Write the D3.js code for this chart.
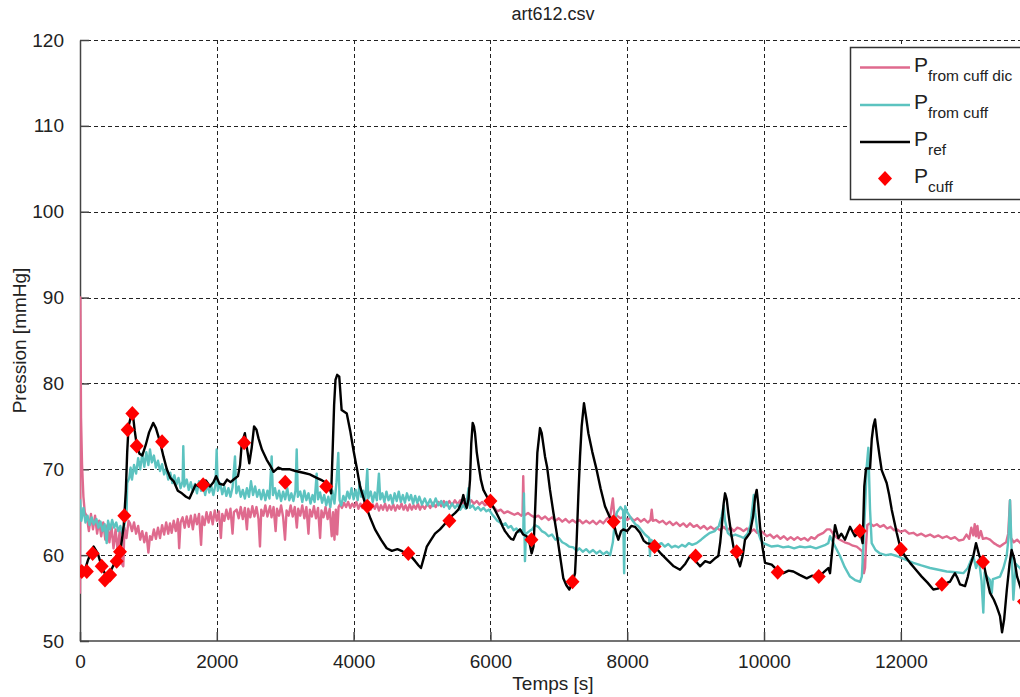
<!DOCTYPE html>
<html><head><meta charset="utf-8">
<script src="https://cdn.jsdelivr.net/npm/d3@7"></script>
<style>body{margin:0;background:#fff}svg{display:block}text{font-family:"Liberation Sans",Arial,sans-serif;fill:#222}</style>
</head><body><svg id="c" width="1020" height="697"></svg>
<script>
const chartTitle = "art612.csv";
const xLabel = "Temps [s]";
const yLabel = "Pression [mmHg]";
const xTicks = [0, 2000, 4000, 6000, 8000, 10000, 12000];
const yTicks = [50, 60, 70, 80, 90, 100, 110, 120];
const legendNames = [["P","from cuff dic"],["P","from cuff"],["P","ref"],["P","cuff"]];

const cuffTime = [25,100,185,317,365,440,536,585,648,697,765,829,1200,1800,2400,3000,3600,4200,4800,5400,6000,6600,7200,7800,8400,9000,9600,10200,10800,11400,12000,12600,13200,13800];
const cuffValues = [58.1,58.1,60.2,58.7,57.1,57.7,59.3,60.4,64.6,74.6,76.5,72.7,73.2,68.2,73.1,68.5,68.0,65.7,60.2,64.0,66.3,61.8,56.9,63.9,61.0,59.9,60.4,58.0,57.5,62.8,60.7,56.6,59.2,54.6];

const pRef = [[0,58.3],[60,58.0],[120,59.5],[200,61.0],[260,60.2],[320,58.6],[380,57.6],[440,58.0],[500,59.0],[560,59.8],[600,61.0],[640,63.5],[670,67.5],[690,72.0],[710,75.0],[740,76.0],[770,76.6],[800,74.5],[830,72.8],[870,71.8],[910,71.6],[960,72.8],[1010,74.3],[1070,75.4],[1110,74.8],[1170,73.2],[1220,71.5],[1270,70.0],[1320,69.0],[1370,68.6],[1430,67.5],[1490,67.2],[1550,66.8],[1600,66.6],[1650,67.5],[1690,68.2],[1740,68.0],[1790,68.4],[1840,68.7],[1900,68.0],[1950,68.5],[1990,69.2],[2040,68.3],[2100,68.2],[2150,68.8],[2200,68.5],[2260,68.9],[2310,69.2],[2340,70.5],[2365,73.0],[2410,74.2],[2440,72.5],[2475,70.7],[2510,72.5],[2545,75.0],[2580,74.6],[2610,73.6],[2660,72.3],[2730,71.1],[2790,70.3],[2830,69.7],[2900,70.2],[2960,70.0],[3070,70.0],[3150,69.8],[3265,69.6],[3360,69.4],[3460,69.0],[3540,68.7],[3606,68.4],[3650,67.8],[3672,67.2],[3694,72.3],[3715,77.5],[3735,80.4],[3760,81.0],[3790,80.8],[3825,76.9],[3900,76.5],[3950,74.5],[3996,72.3],[4050,70.0],[4094,68.0],[4180,65.7],[4250,64.2],[4313,63.0],[4400,61.8],[4484,60.8],[4560,60.5],[4640,60.7],[4700,60.5],[4760,60.2],[4825,60.0],[4900,59.3],[4950,58.8],[4985,58.5],[5030,59.8],[5070,61.0],[5117,61.6],[5190,62.5],[5263,63.0],[5330,63.6],[5385,64.0],[5440,64.6],[5482,64.9],[5531,65.3],[5580,66.2],[5604,67.0],[5630,66.0],[5653,65.5],[5680,66.5],[5702,68.8],[5720,73.0],[5741,75.4],[5760,75.0],[5775,74.2],[5800,72.0],[5823,70.7],[5860,68.8],[5897,67.6],[5950,66.8],[5994,66.3],[6070,65.2],[6140,64.1],[6180,63.3],[6213,62.8],[6260,62.3],[6300,61.9],[6335,61.8],[6380,62.6],[6433,63.0],[6480,62.4],[6530,62.2],[6570,61.5],[6603,60.2],[6630,61.0],[6652,64.9],[6686,71.9],[6725,74.8],[6750,74.2],[6798,71.5],[6830,70.2],[6871,67.6],[6920,65.0],[6969,62.6],[7020,59.8],[7066,57.3],[7110,56.5],[7154,56.0],[7200,56.8],[7237,57.9],[7260,61.5],[7285,66.8],[7310,71.5],[7334,75.0],[7368,77.7],[7400,76.0],[7432,74.2],[7490,72.0],[7554,69.9],[7610,67.8],[7675,65.7],[7740,64.5],[7797,63.9],[7840,62.5],[7870,61.8],[7910,62.8],[7943,63.0],[8000,62.8],[8060,63.4],[8114,63.3],[8187,62.6],[8240,61.7],[8285,61.4],[8340,61.3],[8406,61.0],[8490,60.2],[8577,59.5],[8680,58.7],[8772,58.3],[8850,59.0],[8918,59.9],[8990,59.4],[9064,58.7],[9140,59.3],[9211,59.1],[9280,59.6],[9332,59.9],[9360,61.5],[9381,63.3],[9410,66.0],[9430,67.2],[9455,66.5],[9478,64.9],[9520,62.5],[9552,61.0],[9600,59.8],[9649,58.7],[9690,60.0],[9722,61.8],[9760,62.2],[9795,62.6],[9840,64.5],[9870,66.8],[9893,67.6],[9915,66.0],[9942,63.3],[9980,60.8],[10015,59.1],[10112,58.9],[10200,58.2],[10283,57.9],[10360,58.2],[10429,58.1],[10520,57.7],[10624,57.3],[10700,57.6],[10794,57.5],[10870,58.0],[10940,58.5],[10965,57.9],[10990,60.0],[11013,61.8],[11038,63.5],[11087,62.0],[11130,62.5],[11184,61.8],[11257,63.3],[11330,62.2],[11404,62.8],[11442,61.4],[11466,68.0],[11491,70.1],[11550,70.1],[11575,73.5],[11598,75.0],[11623,75.8],[11657,73.4],[11690,71.5],[11720,69.9],[11793,68.4],[11830,67.0],[11867,65.3],[11940,62.6],[11998,60.7],[12060,59.9],[12135,59.1],[12220,58.3],[12305,57.5],[12390,56.8],[12475,56.0],[12540,56.1],[12612,56.4],[12680,56.8],[12719,56.9],[12760,57.5],[12792,57.9],[12830,57.3],[12865,56.6],[12939,56.4],[12980,57.5],[13012,58.7],[13060,59.9],[13099,61.4],[13148,59.9],[13206,59.2],[13250,57.5],[13304,55.6],[13360,54.8],[13402,54.0],[13450,52.9],[13480,51.0],[13510,52.5],[13550,56.0],[13590,59.0],[13620,60.6],[13660,59.5],[13700,57.5],[13760,56.0],[13800,54.5]];

const pFromCuff = [[0,66.5],[20,64.0],[50,65.5],[80,63.8],[110,64.6],[140,63.5],[170,64.4],[200,63.6],[240,64.2],[270,63.2],[300,63.9],[330,62.8],[360,63.6],[390,61.4],[410,64.0],[440,63.0],[470,64.1],[500,63.2],[530,63.8],[560,62.8],[590,63.4],[620,62.5],[650,63.6],[680,64.5],[690,68.4],[720,69.0],[740,70.2],[760,68.8],[790,70.5],[820,69.5],[850,71.3],[880,70.0],[910,71.8],[940,70.3],[970,72.0],[1000,70.5],[1023,72.3],[1050,70.8],[1080,71.6],[1110,70.2],[1140,71.0],[1170,69.8],[1200,70.6],[1230,69.4],[1260,70.1],[1290,68.8],[1320,69.6],[1350,68.4],[1380,69.3],[1410,68.2],[1440,69.0],[1470,67.8],[1500,68.6],[1510,72.7],[1525,68.0],[1560,68.8],[1590,67.6],[1620,68.5],[1650,67.4],[1680,68.3],[1710,67.2],[1740,68.6],[1770,67.5],[1800,68.2],[1830,67.0],[1860,68.4],[1890,67.3],[1920,68.0],[1950,67.0],[1980,68.2],[1998,72.3],[2015,67.5],[2050,68.4],[2080,67.1],[2110,68.0],[2140,66.9],[2170,67.8],[2200,66.8],[2230,67.9],[2266,71.5],[2285,67.2],[2320,68.0],[2350,66.8],[2380,67.6],[2410,66.6],[2440,67.8],[2470,66.8],[2500,68.6],[2530,67.0],[2560,68.0],[2590,66.8],[2620,67.6],[2650,66.5],[2680,67.6],[2710,66.4],[2740,67.5],[2770,66.6],[2802,71.5],[2820,67.0],[2850,67.8],[2880,66.6],[2910,67.5],[2940,66.3],[2970,67.4],[3000,66.5],[3030,67.8],[3060,66.4],[3090,67.2],[3120,66.3],[3150,67.5],[3168,72.3],[3185,66.8],[3220,67.4],[3250,66.2],[3280,67.5],[3310,66.4],[3340,67.2],[3370,66.0],[3400,67.0],[3430,66.2],[3460,69.5],[3480,66.5],[3510,67.3],[3540,66.1],[3570,67.0],[3600,65.8],[3630,66.8],[3660,65.6],[3690,67.5],[3720,66.0],[3750,68.5],[3776,71.9],[3795,66.4],[3820,65.8],[3850,66.9],[3880,66.3],[3910,67.4],[3940,66.6],[3970,67.8],[4000,66.5],[4030,67.6],[4060,66.4],[4090,68.5],[4110,66.8],[4140,67.5],[4170,66.3],[4200,70.0],[4215,66.6],[4250,67.4],[4280,66.2],[4310,67.3],[4340,66.4],[4370,69.5],[4390,66.5],[4420,67.2],[4450,66.2],[4480,67.4],[4510,66.4],[4540,67.0],[4570,66.0],[4600,67.2],[4630,66.3],[4660,67.4],[4690,66.2],[4720,67.0],[4750,66.1],[4780,67.2],[4810,66.4],[4840,67.0],[4870,66.0],[4900,66.9],[4930,66.1],[4960,66.8],[5000,65.9],[5040,66.6],[5080,65.8],[5120,66.5],[5160,65.7],[5200,66.6],[5240,65.8],[5280,66.3],[5320,65.6],[5360,66.2],[5400,65.4],[5440,66.0],[5480,65.5],[5520,65.9],[5560,65.3],[5600,65.8],[5640,65.4],[5680,67.8],[5700,65.5],[5740,65.8],[5780,65.3],[5820,65.6],[5860,65.2],[5900,65.5],[5940,65.1],[5980,65.3],[6020,64.8],[6060,64.4],[6100,64.0],[6140,63.8],[6180,63.5],[6220,63.7],[6260,63.2],[6300,63.4],[6340,62.9],[6380,63.1],[6420,62.7],[6460,62.9],[6480,62.6],[6490,67.2],[6505,59.3],[6520,62.5],[6570,62.8],[6610,63.0],[6650,63.5],[6700,63.3],[6750,62.8],[6800,62.6],[6850,62.2],[6900,62.4],[6950,61.8],[7000,62.0],[7050,61.5],[7100,61.3],[7150,61.0],[7213,60.9],[7260,60.5],[7300,60.8],[7350,60.4],[7400,60.7],[7450,60.3],[7500,60.6],[7550,60.2],[7600,60.5],[7650,60.1],[7700,60.4],[7750,60.0],[7790,61.5],[7820,64.0],[7850,65.0],[7900,65.6],[7940,65.2],[7955,57.9],[7970,65.7],[8000,65.0],[8040,64.5],[8080,64.0],[8120,63.6],[8160,63.4],[8200,63.0],[8260,62.4],[8320,62.0],[8333,59.9],[8345,61.8],[8400,61.5],[8450,61.2],[8500,61.4],[8550,61.0],[8600,61.3],[8650,60.9],[8700,61.1],[8750,60.9],[8800,61.2],[8850,61.0],[8900,61.4],[8950,61.2],[9015,61.4],[9080,61.8],[9140,62.2],[9210,62.6],[9280,62.8],[9340,63.4],[9380,64.5],[9410,65.8],[9430,64.0],[9470,62.6],[9520,62.2],[9580,62.4],[9649,62.2],[9700,62.0],[9760,62.5],[9800,63.5],[9830,65.5],[9850,67.0],[9870,65.0],[9900,63.0],[9950,61.8],[9990,61.4],[10050,61.2],[10112,61.0],[10200,61.1],[10280,60.9],[10360,61.0],[10440,60.8],[10520,61.0],[10600,60.9],[10680,61.0],[10760,60.8],[10830,61.0],[10900,61.2],[10940,61.4],[10965,62.2],[11040,61.0],[11111,59.9],[11180,58.6],[11257,57.5],[11330,57.1],[11404,56.9],[11430,57.5],[11452,61.0],[11480,66.0],[11501,70.3],[11525,72.5],[11550,65.3],[11574,61.4],[11630,60.6],[11696,60.2],[11780,60.0],[11860,60.1],[11940,59.9],[12060,59.5],[12183,59.1],[12300,58.8],[12427,58.5],[12550,58.3],[12671,58.1],[12800,58.0],[12914,57.9],[12980,58.5],[13020,59.3],[13060,59.9],[13100,58.5],[13140,59.5],[13180,57.0],[13206,53.3],[13225,58.0],[13260,57.5],[13304,57.1],[13330,55.6],[13345,57.2],[13380,57.3],[13450,57.5],[13500,58.5],[13547,59.9],[13575,62.0],[13596,66.4],[13620,60.6],[13645,54.8],[13680,59.0],[13740,58.5],[13800,58.0]];

const pFromCuffDic = [[0,55.5],[5,90.0],[15,76.0],[30,70.5],[50,66.8],[70,65.0],[100,64.5],[130,62.8],[160,64.8],[190,63.0],[220,64.6],[250,62.5],[280,64.0],[310,62.2],[340,63.8],[370,61.8],[400,63.5],[430,61.5],[460,63.4],[490,60.8],[520,63.0],[550,60.5],[580,62.8],[610,59.0],[633,58.7],[650,63.2],[680,62.0],[710,64.0],[731,63.7],[760,62.8],[790,63.8],[820,62.5],[850,63.4],[880,61.8],[910,62.8],[940,61.5],[970,62.6],[1000,60.3],[1023,62.2],[1050,61.8],[1080,63.0],[1110,61.9],[1140,63.2],[1170,62.0],[1200,63.5],[1230,62.4],[1260,63.8],[1290,62.5],[1316,63.7],[1340,62.6],[1370,64.0],[1400,62.8],[1430,64.2],[1450,60.8],[1470,63.8],[1500,64.4],[1530,63.2],[1560,64.5],[1590,63.3],[1620,64.6],[1650,63.0],[1680,64.7],[1710,63.6],[1740,64.8],[1770,61.2],[1790,64.5],[1820,63.5],[1850,65.0],[1880,63.8],[1910,65.0],[1940,63.6],[1970,65.2],[2000,64.0],[2030,65.1],[2060,62.0],[2080,64.8],[2110,64.0],[2140,65.3],[2170,64.2],[2200,65.4],[2230,62.5],[2250,65.0],[2290,65.3],[2320,64.3],[2350,65.6],[2380,64.2],[2410,65.5],[2440,63.0],[2460,65.4],[2490,64.4],[2520,65.7],[2550,64.5],[2580,65.6],[2610,64.2],[2631,61.0],[2650,65.3],[2680,64.6],[2710,65.8],[2740,64.5],[2778,65.7],[2800,64.4],[2830,65.6],[2860,62.8],[2880,65.4],[2910,64.6],[2940,65.8],[2970,64.4],[2997,61.8],[3020,65.2],[3050,64.6],[3080,65.8],[3110,64.5],[3140,65.6],[3170,63.2],[3190,65.4],[3220,64.6],[3250,65.8],[3280,64.3],[3310,65.6],[3340,62.5],[3360,65.3],[3390,64.5],[3420,65.7],[3450,64.3],[3480,65.5],[3510,62.0],[3530,65.2],[3560,64.4],[3590,65.6],[3620,64.2],[3650,65.4],[3680,62.2],[3700,65.0],[3720,61.8],[3740,65.3],[3760,62.4],[3780,65.6],[3800,65.9],[3830,65.5],[3860,66.1],[3890,65.6],[3920,66.2],[3950,65.5],[3980,66.0],[4010,65.6],[4040,66.2],[4070,65.4],[4100,66.0],[4130,65.5],[4160,66.1],[4190,65.4],[4220,66.0],[4250,65.3],[4280,65.9],[4310,65.4],[4340,66.0],[4370,65.2],[4400,65.8],[4430,65.3],[4460,66.0],[4490,65.2],[4520,65.8],[4550,65.3],[4580,65.9],[4610,65.2],[4640,65.8],[4670,65.4],[4700,66.0],[4730,65.3],[4760,65.8],[4790,65.2],[4820,65.9],[4850,65.3],[4880,65.8],[4910,65.4],[4940,66.0],[4970,65.3],[5000,65.8],[5040,65.4],[5080,66.0],[5120,65.5],[5160,66.1],[5200,65.6],[5240,66.2],[5280,65.7],[5320,66.3],[5360,65.8],[5400,66.3],[5440,65.8],[5480,66.4],[5520,65.9],[5560,66.4],[5600,66.0],[5640,66.5],[5680,65.9],[5720,66.4],[5760,66.0],[5800,66.3],[5840,65.9],[5880,66.2],[5920,65.8],[5960,66.0],[6000,65.6],[6050,65.6],[6100,65.1],[6150,65.3],[6200,64.9],[6250,65.1],[6300,64.9],[6350,64.7],[6400,64.9],[6450,64.6],[6470,64.8],[6480,69.2],[6492,64.6],[6550,64.9],[6600,64.6],[6650,64.4],[6700,64.6],[6750,64.2],[6800,64.5],[6850,64.1],[6900,64.4],[6950,64.0],[7000,64.3],[7050,63.9],[7100,64.2],[7150,63.8],[7200,64.1],[7250,63.8],[7300,64.1],[7350,63.7],[7400,64.0],[7450,63.7],[7500,64.0],[7550,63.6],[7600,64.0],[7650,63.7],[7700,64.2],[7750,64.5],[7790,66.6],[7810,64.8],[7850,64.6],[7900,64.3],[7950,64.5],[8000,64.1],[8050,64.4],[8100,64.0],[8150,64.3],[8200,63.9],[8250,64.2],[8300,63.8],[8340,64.1],[8358,65.3],[8375,64.0],[8420,64.1],[8470,63.8],[8520,64.0],[8570,63.6],[8620,63.9],[8670,63.5],[8720,63.8],[8770,63.4],[8820,63.7],[8870,63.3],[8918,63.7],[8970,63.3],[9020,63.5],[9070,63.1],[9120,63.4],[9170,63.0],[9220,63.3],[9270,63.0],[9308,63.2],[9360,62.9],[9410,63.3],[9460,62.9],[9510,63.2],[9560,62.8],[9610,63.2],[9649,63.1],[9700,62.8],[9750,63.1],[9800,62.7],[9850,63.0],[9900,62.6],[9950,62.8],[9990,62.6],[10040,62.2],[10090,62.4],[10140,62.0],[10190,62.3],[10240,61.9],[10290,62.2],[10340,61.8],[10390,62.1],[10440,61.8],[10490,62.1],[10540,61.8],[10590,62.0],[10640,61.7],[10690,62.1],[10740,61.9],[10790,62.3],[10867,62.6],[10920,63.0],[10965,63.0],[11020,62.4],[11070,62.0],[11111,61.8],[11180,61.5],[11250,61.3],[11300,61.1],[11355,61.0],[11400,60.7],[11440,60.4],[11460,57.9],[11477,58.5],[11490,61.0],[11510,63.5],[11550,63.7],[11600,63.4],[11650,63.6],[11696,63.3],[11750,63.5],[11800,63.1],[11850,63.3],[11900,62.9],[11940,63.0],[12000,62.7],[12060,62.9],[12120,62.5],[12183,62.6],[12240,62.3],[12300,62.5],[12360,62.2],[12427,62.4],[12490,62.1],[12550,62.3],[12610,62.0],[12671,62.2],[12730,61.9],[12790,62.1],[12850,61.7],[12914,61.8],[12960,62.4],[13000,61.9],[13030,63.2],[13060,62.3],[13080,63.6],[13100,62.2],[13120,63.4],[13140,62.0],[13170,62.8],[13200,61.9],[13250,62.0],[13304,61.8],[13360,61.4],[13400,61.2],[13450,61.0],[13500,61.3],[13540,61.5],[13570,62.5],[13596,66.4],[13610,62.0],[13650,61.5],[13700,61.8],[13750,61.4],[13800,61.6]];

const seriesColors = ["#df6a8e", "#5cc3c0", "#000000", "#ff0000"];

const W = 1020, H = 697;
const L = 80, R = 1026, T = 40, B = 641;
const svg = d3.select("#c");
const x = d3.scaleLinear().domain([0, 13830]).range([L, R]);
const y = d3.scaleLinear().domain([50, 120]).range([B, T]);

svg.append("defs").append("clipPath").attr("id","clip")
  .append("rect").attr("x", L).attr("y", T - 1).attr("width", R - L).attr("height", B - T + 2);

// grid
const grid = svg.append("g").attr("stroke", "#222").attr("stroke-width", 1).attr("stroke-dasharray", "4,3");
grid.selectAll(".gx").data(xTicks.filter(d => d > 0)).enter().append("line")
  .attr("x1", d => Math.round(x(d)) + 0.5).attr("x2", d => Math.round(x(d)) + 0.5)
  .attr("y1", T).attr("y2", B);
grid.selectAll(".gy").data(yTicks.filter(d => d > 50)).enter().append("line")
  .attr("y1", d => Math.round(y(d)) + 0.5).attr("y2", d => Math.round(y(d)) + 0.5)
  .attr("x1", L).attr("x2", W + 20);

// axes
const xAxis = d3.axisBottom(x).tickValues(xTicks).tickSizeInner(-9).tickSizeOuter(0).tickPadding(14).tickFormat(d3.format("d"));
const yAxis = d3.axisLeft(y).tickValues(yTicks).tickSizeInner(-9).tickSizeOuter(0).tickPadding(16).tickFormat(d3.format("d"));
const gx = svg.append("g").attr("transform", `translate(0,${B})`).call(xAxis);
const gy = svg.append("g").attr("transform", `translate(${L},0)`).call(yAxis);
[gx, gy].forEach(g => {
  g.select(".domain").attr("stroke", "#444").attr("stroke-width", 1.5);
  g.selectAll(".tick line").attr("stroke", "#444").attr("stroke-width", 1.5);
  g.selectAll(".tick text").attr("font-size", 19).attr("fill", "#222").attr("font-family", '"Liberation Sans", Arial, sans-serif');
});
gx.select(".domain").attr("d", `M${L},0H${W + 20}`);

// lines
const line = d3.line().x(d => x(d[0])).y(d => y(d[1]));
const plot = svg.append("g").attr("clip-path", "url(#clip)");
[pFromCuffDic, pFromCuff, pRef].forEach((s, i) => {
  plot.append("path").datum(s).attr("d", line).attr("fill", "none")
    .attr("stroke", seriesColors[i]).attr("stroke-width", 2.4).attr("stroke-linejoin", "round");
});
const diamond = "M0,-7.5L7,0L0,7.5L-7,0Z";
plot.selectAll(".cuff").data(cuffTime.map((t, i) => [t, cuffValues[i]])).enter().append("path")
  .attr("d", diamond).attr("fill", seriesColors[3])
  .attr("transform", d => `translate(${x(d[0])},${y(d[1])})`);

// title & labels
svg.append("text").attr("x", (L + R) / 2).attr("y", 20).attr("text-anchor", "middle").attr("font-size", 18).text(chartTitle);
svg.append("text").attr("x", (L + R) / 2).attr("y", 690).attr("text-anchor", "middle").attr("font-size", 19).text(xLabel);
svg.append("text").attr("transform", `translate(26,${(T + B) / 2}) rotate(-90)`).attr("text-anchor", "middle").attr("font-size", 19).text(yLabel);

// legend
const lg = svg.append("g");
lg.append("rect").attr("x", 850.5).attr("y", 47.5).attr("width", 171).attr("height", 152)
  .attr("fill", "#fff").attr("stroke", "#333").attr("stroke-width", 1.5);
const rowY = [71.5, 109, 146, 183];
legendNames.forEach((nm, i) => {
  const yy = rowY[i];
  if (i < 3) {
    lg.append("line").attr("x1", 860).attr("x2", 910).attr("y1", yy - 4).attr("y2", yy - 4)
      .attr("stroke", seriesColors[i]).attr("stroke-width", 2.4);
  } else {
    lg.append("path").attr("d", diamond).attr("fill", seriesColors[3]).attr("transform", `translate(885,${yy - 4.5})`);
  }
  const t = lg.append("text").attr("x", 914).attr("y", yy).attr("font-size", 21);
  t.append("tspan").text(nm[0]);
  t.append("tspan").attr("dy", 9).attr("font-size", 15.5).text(nm[1]);
});
</script></body></html>
